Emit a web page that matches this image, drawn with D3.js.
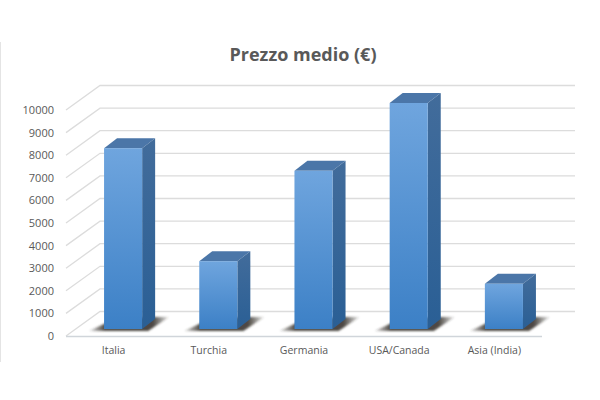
<!DOCTYPE html>
<html><head><meta charset="utf-8">
<script src="https://cdn.jsdelivr.net/npm/d3@7/dist/d3.min.js"></script>
<style>html,body{margin:0;padding:0;background:#fff}svg{display:block}</style>
</head><body><svg id="c" width="600" height="400"></svg>
<script>
const categories = ["Italia","Turchia","Germania","USA/Canada","Asia (India)"];
const prices = [8000,3000,7000,10000,2000];
const yTicks = [0,1000,2000,3000,4000,5000,6000,7000,8000,9000,10000];
const titleText = "Prezzo medio (€)";

const svg = d3.select("#c");
const FONT = "'Open Sans', sans-serif";
const depthX = 34, depthY = -24.5;          // floor depth of the 3-D plot
const x = d3.scaleBand().domain(categories).range([66,542]).paddingInner(0.6).paddingOuter(0.3);
const xLabel = d3.scaleBand().domain(categories).range([66,542]);
const yS = d3.scaleLinear().domain([0,10000]).range([336,110]);

const defs = svg.append("defs");
function grad(id,a,b){
  const g = defs.append("linearGradient").attr("id",id).attr("x1",0).attr("y1",0).attr("x2",0).attr("y2",1);
  g.append("stop").attr("offset","0%").attr("stop-color",a);
  g.append("stop").attr("offset","100%").attr("stop-color",b);
}
grad("front","#6fa5de","#3c80c6");
grad("side","#426c9b","#2a5f95");
const sg = defs.append("linearGradient").attr("id","shade").attr("x1",0).attr("y1",0).attr("x2",1).attr("y2",0);
[[0,0.15],[0.2,0.9],[0.8,0.9],[1,0.1]].forEach(s=>
  sg.append("stop").attr("offset",s[0]).attr("stop-color","#3a3630").attr("stop-opacity",s[1]));
defs.append("filter").attr("id","blur").attr("x","-20%").attr("y","-50%").attr("width","140%").attr("height","200%")
  .append("feGaussianBlur").attr("stdDeviation",1.3);

// left page edge
svg.append("line").attr("x1",0.5).attr("x2",0.5).attr("y1",42).attr("y2",362).attr("stroke","#e4e4e4");

// gridlines: side wall and back wall
const grid = svg.append("g").attr("fill","none").attr("stroke","#dcdcdc").attr("stroke-width",1.3);
yTicks.forEach(t=>{
  const p = d3.path();
  p.moveTo(66,yS(t)); p.lineTo(66+depthX,yS(t)+depthY);
  p.lineTo(575,yS(t)+depthY);
  grid.append("path").attr("d",p.toString());
});
grid.append("line").attr("x1",66).attr("x2",542).attr("y1",yS(0)+0.5).attr("y2",yS(0)+0.5).attr("stroke","#d0d5da");

// bars
const barOffX = 9.5, barOffY = -7;
const bars = svg.append("g").selectAll("g").data(categories.map((c,i)=>({c,v:prices[i]}))).join("g");
const dx = 13, dy = -10;
bars.each(function(d){
  const g = d3.select(this);
  const l = xLabel(d.c)+xLabel.bandwidth()/2 + barOffX - x.bandwidth()/2;
  const r = l + x.bandwidth();
  const b = yS(0)+barOffY, t = yS(d.v)+barOffY;
  const poly = pts => pts.map(q=>q.join(",")).join(" ");
  g.append("polygon").attr("points",poly([[l-15,b+2],[r+6,b+2],[r+27,b-12],[r+6,b-12],[l+6,b-8]]))
    .attr("fill","url(#shade)").attr("filter","url(#blur)");
  g.append("polygon").attr("points",poly([[l,t],[l+dx,t+dy],[r+dx,t+dy],[r,t]])).attr("fill","#4b76a8");
  g.append("polygon").attr("points",poly([[r,t],[r+dx,t+dy],[r+dx,b+dy],[r,b]])).attr("fill","url(#side)");
  g.append("rect").attr("x",l).attr("y",t).attr("width",r-l).attr("height",b-t).attr("fill","url(#front)");
});

// axis labels
svg.append("g").selectAll("text").data(yTicks).join("text")
  .attr("x",54).attr("y",d=>yS(d)).attr("dy","0.36em").attr("text-anchor","end")
  .attr("font-family",FONT).attr("font-size",11).attr("fill","#595959").text(d=>d);
svg.append("g").selectAll("text").data(categories).join("text")
  .attr("x",d=>xLabel(d)+xLabel.bandwidth()/2).attr("y",354).attr("text-anchor","middle")
  .attr("font-family",FONT).attr("font-size",10.5).attr("fill","#595959").text(d=>d);
svg.append("text").attr("x",303).attr("y",61).attr("text-anchor","middle")
  .attr("font-family",FONT).attr("font-weight",700).attr("font-size",18).attr("fill","#595959").text(titleText);
</script></body></html>
